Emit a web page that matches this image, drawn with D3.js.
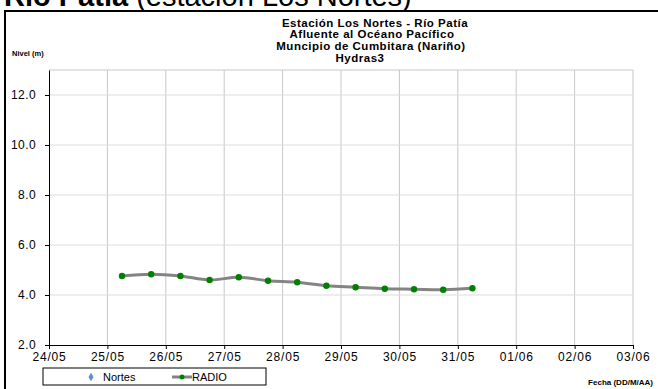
<!DOCTYPE html>
<html lang="es">
<head>
<meta charset="utf-8">
<title>Río Patía - Estación Los Nortes</title>
<script src="https://cdn.jsdelivr.net/npm/d3@7"></script>
<style>
    body { margin: 0; background: #fff; }
    svg { font-family: Arial, "Liberation Sans", sans-serif; display: block; }
    .axis text { font-size: 12px; fill: #000; }
    .axis path, .axis line { stroke: #000; }
    .grid line { stroke: #c8c8c8; }
    .title { font-size: 11.5px; font-weight: bold; letter-spacing: 0.5px; }
</style>
</head>
<body>
<script>
// measurement times (every 12 h, 06:00 and 18:00)
const fechas = [
    "2012-05-25 06", "2012-05-25 18", "2012-05-26 06", "2012-05-26 18",
    "2012-05-27 06", "2012-05-27 18", "2012-05-28 06", "2012-05-28 18",
    "2012-05-29 06", "2012-05-29 18", "2012-05-30 06", "2012-05-30 18",
    "2012-05-31 06"
];
// nivel (m), serie RADIO
const radio = [4.76, 4.83, 4.76, 4.60, 4.71, 4.57, 4.51, 4.37, 4.31, 4.25, 4.23, 4.21, 4.27];
// serie Nortes has no values in this period
const nortes = [];

const yTicks = [2, 4, 6, 8, 10, 12];
const xDomain = ["2012-05-24", "2012-06-03"];
const tituloLineas = [
    "Estación Los Nortes  - Río Patía",
    "Afluente al Océano Pacífico",
    "Muncipio de Cumbitara (Nariño)",
    "Hydras3"
];

const W = 658, H = 389;
const parseHora = d3.timeParse("%Y-%m-%d %H");
const parseDia = d3.timeParse("%Y-%m-%d");

const svg = d3.select("body").append("svg")
    .attr("width", W).attr("height", H);

// outer frame (extends past the picture on right/bottom)
svg.append("rect")
    .attr("x", 5).attr("y", 11)
    .attr("width", 720).attr("height", 420)
    .attr("fill", "none").attr("stroke", "#000").attr("stroke-width", 2);

// page heading, mostly cut off at the top
const head = svg.append("text")
    .attr("x", 4).attr("y", 6)
    .style("font-size", "29px");
head.append("tspan").style("font-weight", "bold").text("Río Patía");
head.append("tspan").text(" (estación Los Nortes)");

// scales
const x = d3.scaleTime()
    .domain(xDomain.map(parseDia))
    .range([49, 633]);
const y = d3.scaleLinear()
    .domain([2, 13])
    .range([345, 70]);

const dias = d3.timeDay.range(x.domain()[0], d3.timeDay.offset(x.domain()[1], 1));

// gridlines
svg.append("g").attr("class", "grid")
    .selectAll("line").data(dias.slice(1))
    .join("line")
    .attr("x1", d => x(d)).attr("x2", d => x(d))
    .attr("y1", y(13)).attr("y2", y(2));
svg.append("g").attr("class", "grid")
    .selectAll("line").data(yTicks.slice(1).concat([13]))
    .join("line")
    .attr("x1", x.range()[0]).attr("x2", x.range()[1])
    .attr("y1", d => y(d)).attr("y2", d => y(d))
    .style("stroke", d => d === 13 ? "#c8c8c8" : "#dcdcdc");

// axes
svg.append("g").attr("class", "axis")
    .attr("transform", `translate(0,${y(2)})`)
    .call(d3.axisBottom(x).tickValues(dias).tickFormat(d3.timeFormat("%d/%m"))
        .tickSize(4).tickSizeOuter(0).tickPadding(3))
    .selectAll("text").style("letter-spacing", "0.8px");
svg.append("g").attr("class", "axis")
    .attr("transform", `translate(${x.range()[0]},0)`)
    .call(d3.axisLeft(y).tickValues(yTicks).tickFormat(d3.format(".1f"))
        .tickSize(4).tickSizeOuter(0).tickPadding(9))
    .selectAll("text").style("letter-spacing", "0.4px");

// series
const datos = fechas.map((f, i) => ({ t: parseHora(f), v: radio[i] }));
const linea = d3.line()
    .x(d => x(d.t)).y(d => y(d.v))
    .curve(d3.curveCatmullRom.alpha(0.5));
svg.append("path")
    .attr("d", linea(datos))
    .attr("fill", "none").attr("stroke", "#848484").attr("stroke-width", 3);
svg.append("g").selectAll("circle").data(datos)
    .join("circle")
    .attr("cx", d => x(d.t)).attr("cy", d => y(d.v))
    .attr("r", 3.2).attr("fill", "#008000");

// titles
const tx = [375, 372, 371, 360];
svg.append("g").selectAll("text").data(tituloLineas)
    .join("text")
    .attr("class", "title")
    .attr("text-anchor", "middle")
    .attr("x", (d, i) => tx[i])
    .attr("y", (d, i) => 27 + i * 11.3 + (i === 3 ? 1 : 0))
    .text(d => d);

svg.append("text")
    .attr("x", 12).attr("y", 56)
    .style("font-size", "7.5px").style("font-weight", "bold")
    .text("Nivel (m)");

svg.append("text")
    .attr("x", 653).attr("y", 385)
    .attr("text-anchor", "end")
    .style("font-size", "8px").style("font-weight", "bold")
    .text("Fecha (DD/M/AA)");

// legend
const leg = svg.append("g").attr("transform", "translate(43,368)");
leg.append("rect")
    .attr("width", 223).attr("height", 17)
    .attr("fill", "#fff").attr("stroke", "#000").attr("stroke-width", 1);
leg.append("path")
    .attr("d", d3.symbol(d3.symbolDiamond, 22)())
    .attr("transform", "translate(48,9)")
    .attr("fill", "#5b8fd0");
leg.append("text").attr("x", 60).attr("y", 13)
    .style("font-size", "11px").text("Nortes");
leg.append("line")
    .attr("x1", 129).attr("x2", 149).attr("y1", 9).attr("y2", 9)
    .attr("stroke", "#848484").attr("stroke-width", 3);
leg.append("circle").attr("cx", 139).attr("cy", 9).attr("r", 2.5).attr("fill", "#008000");
leg.append("text").attr("x", 149).attr("y", 13)
    .style("font-size", "11px").text("RADIO");
</script>
</body>
</html>
